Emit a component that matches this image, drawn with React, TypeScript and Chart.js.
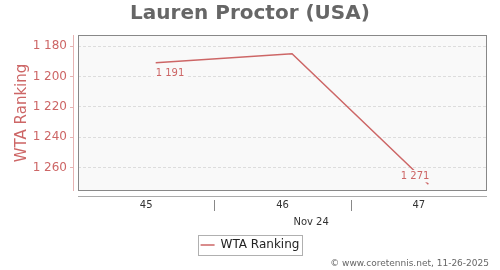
import React, { useEffect, useRef } from 'react';
import { Chart, registerables } from 'chart.js';

Chart.register(...registerables);

// ---- data ----
const chartTitle = 'Lauren Proctor (USA)';
const seriesName = 'WTA Ranking';
const weekPositions = [45.07, 46.07, 47.07];
const rankings = [1191, 1185, 1271];
const weekTicks = [45, 46, 47];
const weekBounds = [44.5, 47.5];
const groupLabel = 'Nov 24';
const groupLabelPos = 46.21;
const rankTicks = [1180, 1200, 1220, 1240, 1260];
const rankRange = [1172.7, 1275.5];
const credit = '\u00A9 www.coretennis.net, 11-26-2025';

// ---- styles ----
const RED = '#cd6666';
const FONT = "'DejaVu Sans', sans-serif";
const PLOT_BG = '#f9f9f9';

const fmt = (v: number) => String(Math.round(v)).replace(/\B(?=(\d{3})+(?!\d))/g, ' ');

const decorPlugin = {
  id: 'decor',
  beforeDraw(chart: any) {
    const { ctx, chartArea: a } = chart;
    ctx.save();
    ctx.fillStyle = '#ffffff';
    ctx.fillRect(0, 0, chart.width, chart.height);
    ctx.fillStyle = PLOT_BG;
    ctx.fillRect(a.left, a.top, a.right - a.left, a.bottom - a.top);
    ctx.restore();
  },
  afterDatasetsDraw(chart: any) {
    const { ctx, chartArea: a } = chart;
    const meta = chart.getDatasetMeta(0);
    const n = meta.data.length;
    ctx.save();
    ctx.font = `10px ${FONT}`;
    ctx.textBaseline = 'middle';
    [0, n - 1].forEach((i) => {
      const pt = meta.data[i];
      const text = fmt(rankings[i]);
      const w = ctx.measureText(text).width;
      const align = i === 0 ? 'left' : 'right';
      const below = pt.y + 17 < a.bottom;
      const cy = below ? pt.y + 10.5 : pt.y - 8;
      const x0 = align === 'left' ? pt.x : pt.x + 1 - w;
      ctx.fillStyle = PLOT_BG;
      ctx.fillRect(x0 - 2, cy - 6.2, w + 4, 12.4);
      ctx.fillStyle = RED;
      ctx.textAlign = 'left';
      ctx.fillText(text, x0, cy);
    });
    ctx.restore();
  },
  afterDraw(chart: any) {
    const { ctx, chartArea: a } = chart;
    const xs = chart.scales.x;
    const ys = chart.scales.y;
    ctx.save();
    // plot border
    ctx.strokeStyle = '#888888';
    ctx.lineWidth = 1;
    ctx.strokeRect(a.left + 0.5, a.top + 0.5, a.right - a.left - 1, a.bottom - a.top - 1);
    // y axis line + ticks
    ctx.strokeStyle = '#e6b3b3';
    ctx.beginPath();
    ctx.moveTo(a.left - 4.5, a.top);
    ctx.lineTo(a.left - 4.5, a.bottom);
    ys.ticks.forEach((t: any) => {
      const py = Math.round(ys.getPixelForValue(t.value)) + 0.5;
      ctx.moveTo(a.left - 8, py);
      ctx.lineTo(a.left - 4.5, py);
    });
    ctx.stroke();
    // x axis line
    ctx.strokeStyle = '#aaaaaa';
    ctx.beginPath();
    ctx.moveTo(a.left, a.bottom + 5.5);
    ctx.lineTo(a.right, a.bottom + 5.5);
    ctx.stroke();
    // separators between weeks
    ctx.strokeStyle = '#888888';
    ctx.beginPath();
    for (let i = 0; i < weekTicks.length - 1; i++) {
      const px = Math.round(xs.getPixelForValue((weekTicks[i] + weekTicks[i + 1]) / 2)) + 0.5;
      ctx.moveTo(px, a.bottom + 9);
      ctx.lineTo(px, a.bottom + 20);
    }
    ctx.stroke();
    // group label
    ctx.font = `10px ${FONT}`;
    ctx.fillStyle = '#333333';
    ctx.textAlign = 'center';
    ctx.textBaseline = 'middle';
    ctx.fillText(groupLabel, xs.getPixelForValue(groupLabelPos), a.bottom + 31);
    // legend border
    const hb = chart.legend && chart.legend.legendHitBoxes && chart.legend.legendHitBoxes[0];
    if (hb) {
      ctx.strokeStyle = '#b0b0b0';
      ctx.strokeRect(Math.round(hb.left) - 2.5, Math.round(hb.top) - 3.5, Math.round(hb.width) + 5, Math.round(hb.height) + 8);
    }
    // credit
    ctx.font = `9px ${FONT}`;
    ctx.fillStyle = '#666666';
    ctx.textAlign = 'right';
    ctx.textBaseline = 'middle';
    ctx.fillText(credit, chart.width - 11, chart.height - 6);
    ctx.restore();
  },
};

export default function App() {
  const ref = useRef<HTMLCanvasElement | null>(null);
  useEffect(() => {
    if (!ref.current) return;
    const chart = new Chart(ref.current, {
      type: 'line',
      data: {
        datasets: [
          {
            label: seriesName,
            data: weekPositions.map((x, i) => ({ x, y: rankings[i] })),
            borderColor: RED,
            backgroundColor: RED,
            borderWidth: 1.5,
            pointRadius: 0,
            tension: 0,
          },
        ],
      },
      options: {
        responsive: false,
        animation: false,
        devicePixelRatio: 1,
        events: [],
        layout: { padding: { left: 0, right: 0, top: 0, bottom: 9 } },
        plugins: {
          title: {
            display: true,
            text: chartTitle,
            color: '#666666',
            font: { family: FONT, size: 20, weight: 'bold' },
            padding: { top: 2, bottom: 9 },
          },
          legend: {
            display: true,
            position: 'bottom',
            maxHeight: 34,
            labels: {
              color: '#222222',
              font: { family: FONT, size: 12 },
              usePointStyle: true,
              pointStyle: 'line',
              pointStyleWidth: 14,
              boxWidth: 14,
              padding: 8,
            },
          },
          tooltip: { enabled: false },
        },
        scales: {
          x: {
            type: 'linear',
            position: 'bottom',
            min: weekBounds[0],
            max: weekBounds[1],
            afterBuildTicks: (s: any) => {
              s.ticks = weekTicks.map((v) => ({ value: v }));
            },
            afterFit: (s: any) => {
              s.height = 40;
            },
            grid: { display: false, drawTicks: false },
            border: { display: false },
            ticks: {
              color: '#333333',
              font: { family: FONT, size: 10 },
              padding: 8,
              autoSkip: false,
              maxRotation: 0,
              callback: (v: any) => String(v),
            },
          },
          y: {
            type: 'linear',
            position: 'left',
            reverse: true,
            min: rankRange[0],
            max: rankRange[1],
            afterBuildTicks: (s: any) => {
              s.ticks = rankTicks.map((v) => ({ value: v }));
            },
            afterFit: (s: any) => {
              s.width = 78;
            },
            grid: { color: '#dddddd', drawTicks: false, borderDash: [3, 2] },
            border: { display: false, dash: [3, 2] },
            ticks: {
              color: RED,
              font: { family: FONT, size: 12 },
              padding: 11,
              callback: (v: any) => fmt(Number(v)),
            },
            title: {
              display: true,
              text: seriesName,
              color: RED,
              font: { family: FONT, size: 15 },
              padding: { top: 13, bottom: 0 },
            },
          },
          yRight: {
            type: 'linear',
            position: 'right',
            display: true,
            afterFit: (s: any) => {
              s.width = 13;
            },
            grid: { display: false, drawTicks: false },
            border: { display: false },
            ticks: { display: false },
          },
        },
      },
      plugins: [decorPlugin],
    } as any);
    return () => chart.destroy();
  }, []);
  return (
    <div style={{ position: 'fixed', left: 0, top: 0, width: 500, height: 270, background: '#fff' }}>
      <canvas ref={ref} width={500} height={270} style={{ width: 500, height: 270, display: 'block' }} />
    </div>
  );
}
